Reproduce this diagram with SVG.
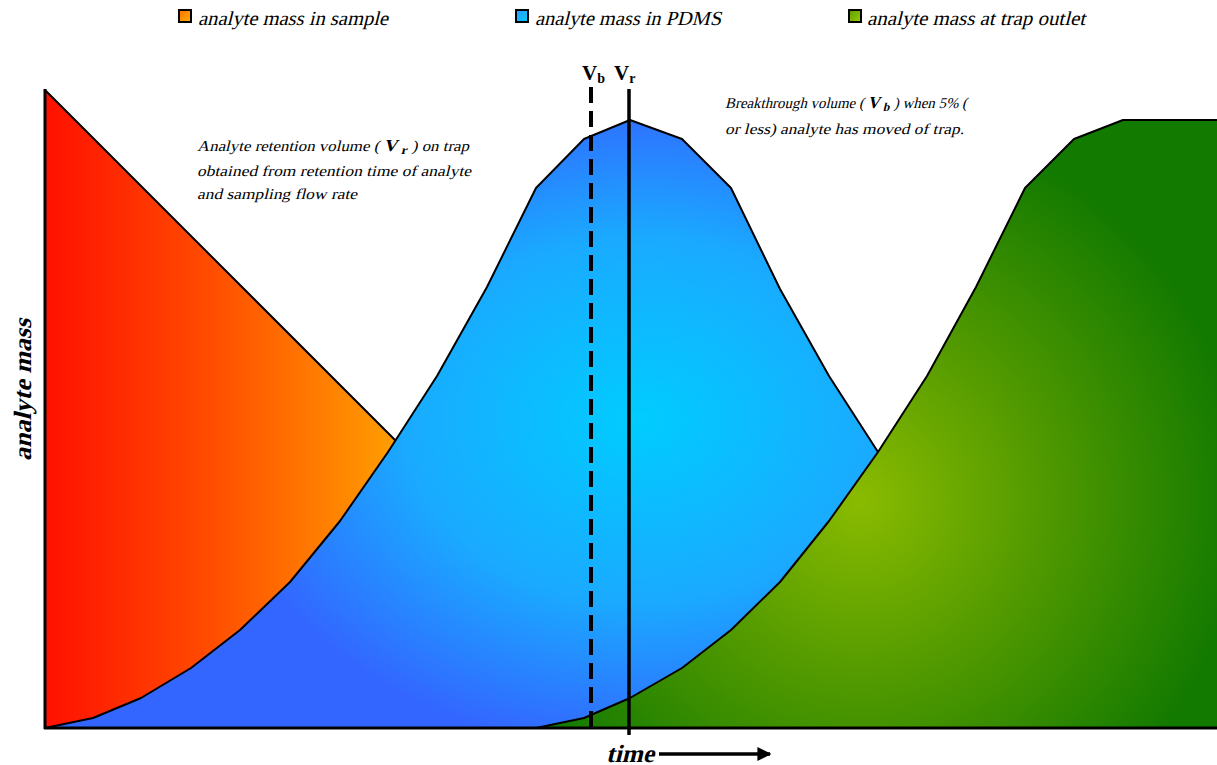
<svg xmlns="http://www.w3.org/2000/svg" width="1217" height="765" viewBox="0 0 1217 765">
<style>
.it{font-family:"Liberation Serif","Times New Roman",serif;fill:#000}
.leg{font-size:20px}
.ann{font-size:15px}
.ax{font-weight:bold;font-size:25px}
.vl{font-family:"Liberation Serif",serif;font-weight:bold;font-size:21px;fill:#000}
.shape{stroke:#000;stroke-width:2;stroke-linejoin:round}
</style>
<defs>
<linearGradient id="gOr" gradientUnits="userSpaceOnUse" x1="45" y1="0" x2="400" y2="0">
<stop offset="0" stop-color="#ff1000"/>
<stop offset="0.45" stop-color="#ff4a00"/>
<stop offset="1" stop-color="#ffa000"/>
</linearGradient>
<radialGradient id="gBl" gradientUnits="userSpaceOnUse" cx="640" cy="420" r="330" gradientTransform="translate(640 420) scale(1.3 1) translate(-640 -420)">
<stop offset="0" stop-color="#00ccff"/>
<stop offset="0.55" stop-color="#1aaaff"/>
<stop offset="1" stop-color="#3366ff"/>
</radialGradient>
<radialGradient id="gGr" gradientUnits="userSpaceOnUse" cx="860" cy="500" r="380">
<stop offset="0" stop-color="#8abb00"/>
<stop offset="0.5" stop-color="#4f9800"/>
<stop offset="1" stop-color="#137a00"/>
</radialGradient>
<linearGradient id="lgO" x1="0" y1="0" x2="1" y2="1"><stop offset="0" stop-color="#ff7000"/><stop offset="1" stop-color="#ffb000"/></linearGradient>
<linearGradient id="lgB" x1="0" y1="0" x2="1" y2="1"><stop offset="0" stop-color="#3399ff"/><stop offset="1" stop-color="#00ccff"/></linearGradient>
<linearGradient id="lgG" x1="0" y1="0" x2="1" y2="1"><stop offset="0" stop-color="#5a9e00"/><stop offset="1" stop-color="#99cc00"/></linearGradient>
<marker id="arr" viewBox="0 0 10 10" refX="9" refY="5" markerWidth="4" markerHeight="4" orient="auto" markerUnits="strokeWidth">
<path d="M0,0 L10,5 L0,10 z" fill="#000"/>
</marker>
</defs>

<g id="legend">
<g id="leg-sample"><rect x="179" y="10" width="12" height="12" fill="url(#lgO)" stroke="#000" stroke-width="2"/><text class="it leg" transform="translate(198 25) skewX(-14)" textLength="190" lengthAdjust="spacingAndGlyphs">analyte mass in sample</text></g>
<g id="leg-pdms"><rect x="516" y="10" width="12" height="12" fill="url(#lgB)" stroke="#000" stroke-width="2"/><text class="it leg" transform="translate(535 25) skewX(-14)" textLength="186" lengthAdjust="spacingAndGlyphs">analyte mass in PDMS</text></g>
<g id="leg-outlet"><rect x="849" y="10" width="12" height="12" fill="url(#lgG)" stroke="#000" stroke-width="2"/><text class="it leg" transform="translate(867 25) skewX(-14)" textLength="218" lengthAdjust="spacingAndGlyphs">analyte mass at trap outlet</text></g>
</g>

<g id="sample">
<polygon class="shape" fill="url(#gOr)" points="45,90 683,728 45,728"/>
</g>

<g id="pdms">
<polygon class="shape" fill="url(#gBl)" points="45,728 93,718 141,698 191,668 240,630 290,582 340,521 388,452 437,376 487,287 536,188 584,139 630,120 682,139 731,188 780,289 829,376 878,452 927,521 976,582 1025,630 1074,668 1123,698 1172,718 1215,728"/>
</g>

<g id="outlet">
<polygon fill="url(#gGr)" points="536,728 584,718 630,698 682,668 731,630 780,582 829,521 878,452 927,376 976,287 1025,188 1074,139 1123,120 1217,120 1217,728"/>
<polyline class="shape" fill="none" points="536,728 584,718 630,698 682,668 731,630 780,582 829,521 878,452 927,376 976,287 1025,188 1074,139 1123,120 1217,120"/>
</g>

<g id="connectors">
<line x1="45" y1="89" x2="45" y2="729" stroke="#000" stroke-width="3"/>
<line x1="44" y1="728" x2="1217" y2="728" stroke="#000" stroke-width="3"/>
<line id="vb-line" x1="591" y1="87" x2="591" y2="728" stroke="#000" stroke-width="4" stroke-dasharray="16,8"/>
<line id="vr-line" x1="629" y1="89" x2="629" y2="735" stroke="#000" stroke-width="3.5"/>
<line id="time-arrow" x1="659" y1="754" x2="770" y2="754" stroke="#000" stroke-width="3.5" marker-end="url(#arr)"/>
</g>

<g id="labels">
<text class="vl" x="582" y="80">V<tspan font-size="14" dy="3">b</tspan></text>
<text class="vl" x="614" y="80">V<tspan font-size="14" dy="3">r</tspan></text>
<text class="it ann" transform="translate(197 151) skewX(-14)" textLength="272" lengthAdjust="spacingAndGlyphs">Analyte retention volume ( <tspan font-weight="bold" font-size="17">V</tspan> <tspan font-weight="bold" font-size="12" dy="3">r</tspan><tspan dy="-3"> ) on trap</tspan></text>
<text class="it ann" transform="translate(197 176) skewX(-14)" textLength="274" lengthAdjust="spacingAndGlyphs">obtained from retention time of analyte</text>
<text class="it ann" transform="translate(197 199) skewX(-14)" textLength="160" lengthAdjust="spacingAndGlyphs">and sampling flow rate</text>
<text class="it ann" transform="translate(725 108) skewX(-14)" textLength="242" lengthAdjust="spacingAndGlyphs">Breakthrough volume ( <tspan font-weight="bold" font-size="17">V</tspan> <tspan font-weight="bold" font-size="12" dy="3">b</tspan><tspan dy="-3"> ) when 5% (</tspan></text>
<text class="it ann" transform="translate(725 134) skewX(-14)" textLength="239" lengthAdjust="spacingAndGlyphs">or less) analyte has moved of trap.</text>
<text class="it ax" transform="translate(31 390) rotate(-90) skewX(-14)" text-anchor="middle" textLength="142" lengthAdjust="spacingAndGlyphs">analyte mass</text>
<text class="it ax" transform="translate(606 762) skewX(-14)" textLength="48" lengthAdjust="spacingAndGlyphs">time</text>
</g>
</svg>
